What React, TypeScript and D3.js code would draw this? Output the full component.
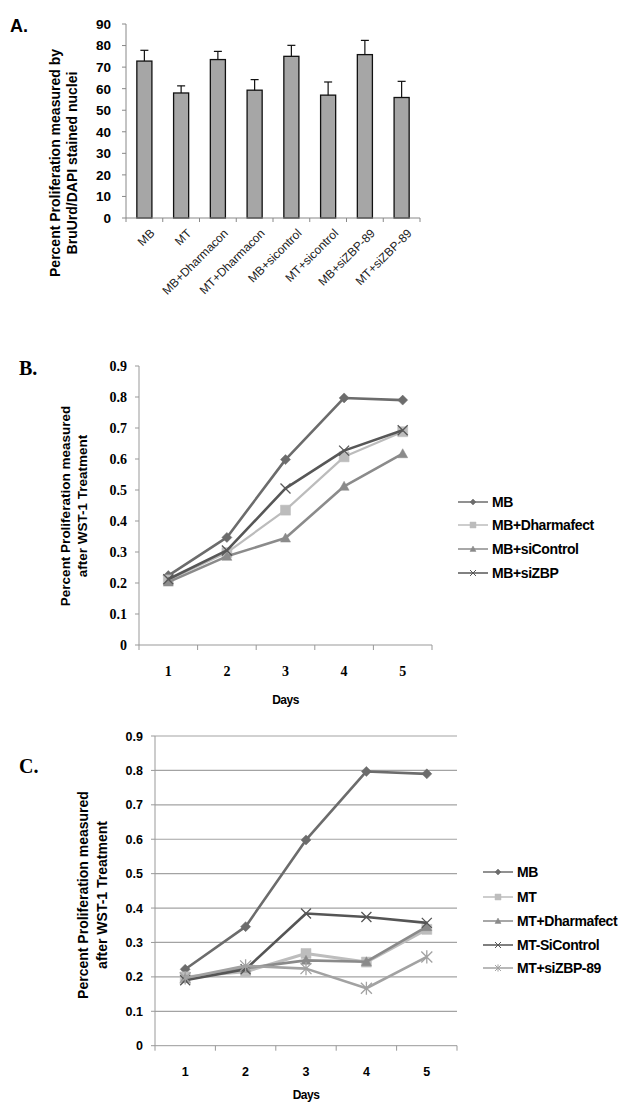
import React, { useEffect, useRef } from 'react';
import * as d3 from 'd3';

// Panel A: BrdU/DAPI proliferation
const aCategories = [
  'MB',
  'MT',
  'MB+Dharmacon',
  'MT+Dharmacon',
  'MB+sicontrol',
  'MT+sicontrol',
  'MB+siZBP-89',
  'MT+siZBP-89',
];
const aValues = [72.8, 58.0, 73.5, 59.3, 75.0, 57.0, 75.8, 55.9];
const aErrors = [5.0, 3.3, 3.8, 4.9, 5.1, 6.1, 6.6, 7.5];
const aTicks = [0, 10, 20, 30, 40, 50, 60, 70, 80, 90];

// Panels B and C: WST-1 time course
const days = [1, 2, 3, 4, 5];
const lineTicks = [0, 0.1, 0.2, 0.3, 0.4, 0.5, 0.6, 0.7, 0.8, 0.9];

const bNames = ['MB', 'MB+Dharmafect', 'MB+siControl', 'MB+siZBP'];
const bMB = [0.224, 0.347, 0.598, 0.797, 0.79];
const bDharmafect = [0.21, 0.298, 0.435, 0.607, 0.688];
const bSiControl = [0.203, 0.286, 0.345, 0.512, 0.617];
const bSiZBP = [0.212, 0.305, 0.505, 0.627, 0.693];

const cNames = ['MB', 'MT', 'MT+Dharmafect', 'MT-SiControl', 'MT+siZBP-89'];
const cMB = [0.222, 0.346, 0.598, 0.797, 0.79];
const cMT = [0.2, 0.215, 0.268, 0.243, 0.338];
const cDharmafect = [0.195, 0.225, 0.248, 0.244, 0.346];
const cSiControl = [0.19, 0.222, 0.384, 0.374, 0.357];
const cSiZBP = [0.197, 0.232, 0.224, 0.167, 0.258];

type Marker = 'diamond' | 'square' | 'triangle' | 'x' | 'star';

const markerPath = (m: Marker, s: number) => {
  const h = s / 2;
  switch (m) {
    case 'diamond':
      return `M0,${-h}L${h},0L0,${h}L${-h},0Z`;
    case 'square':
      return `M${-h},${-h}H${h}V${h}H${-h}Z`;
    case 'triangle':
      return `M0,${-h}L${h},${h * 0.8}L${-h},${h * 0.8}Z`;
    case 'x':
      return `M${-h},${-h}L${h},${h}M${h},${-h}L${-h},${h}`;
    case 'star':
      return `M${-h},${-h}L${h},${h}M${h},${-h}L${-h},${h}M0,${-h * 1.2}V${h * 1.2}`;
  }
};

const narrow = "'Liberation Sans Narrow', 'Arial Narrow', sans-serif";
const sans = "'Liberation Sans', Arial, sans-serif";
const serif = "'Liberation Serif', 'Times New Roman', serif";

type Series = { name: string; values: number[]; color: string; width: number; marker: Marker; size: number };

const App: React.FC = () => {
  const svgRef = useRef<SVGSVGElement>(null);

  useEffect(() => {
    if (!svgRef.current) return;
    const svg = d3.select(svgRef.current);
    svg.selectAll('*').remove();

    // ---------- Panel A ----------
    const gA = svg.append('g');
    const xA = d3
      .scaleBand<string>()
      .domain(aCategories)
      .range([126, 420])
      .paddingInner(0.59)
      .paddingOuter(0.295);
    const yA = d3.scaleLinear().domain([0, 90]).range([218, 24]);

    gA.append('text')
      .attr('x', 10)
      .attr('y', 32)
      .attr('font-family', sans)
      .attr('font-weight', 'bold')
      .attr('font-size', 18)
      .text('A.');

    // bars + error bars (upper only)
    aCategories.forEach((c, i) => {
      const x = xA(c)!;
      const w = xA.bandwidth();
      gA.append('rect')
        .attr('x', x)
        .attr('y', yA(aValues[i]))
        .attr('width', w)
        .attr('height', yA(0) - yA(aValues[i]))
        .attr('fill', '#a6a6a6')
        .attr('stroke', '#111')
        .attr('stroke-width', 1.3);
      const cx = x + w / 2;
      gA.append('line')
        .attr('x1', cx)
        .attr('x2', cx)
        .attr('y1', yA(aValues[i]))
        .attr('y2', yA(aValues[i] + aErrors[i]))
        .attr('stroke', '#111')
        .attr('stroke-width', 1.2);
      gA.append('line')
        .attr('x1', cx - 4)
        .attr('x2', cx + 4)
        .attr('y1', yA(aValues[i] + aErrors[i]))
        .attr('y2', yA(aValues[i] + aErrors[i]))
        .attr('stroke', '#111')
        .attr('stroke-width', 1.2);
      gA.append('text')
        .attr('transform', `translate(${cx + 5},${yA(0) + 10}) rotate(-45)`)
        .attr('text-anchor', 'end')
        .attr('dy', '0.7em')
        .attr('font-family', sans)
        .attr('font-size', 12)
        .attr('fill', '#222')
        .text(c);
    });

    // axes
    gA.append('line')
      .attr('x1', 126).attr('x2', 126)
      .attr('y1', yA(90)).attr('y2', yA(0))
      .attr('stroke', '#888');
    gA.append('line')
      .attr('x1', 126).attr('x2', 420)
      .attr('y1', yA(0)).attr('y2', yA(0))
      .attr('stroke', '#888');
    aTicks.forEach(t => {
      gA.append('line')
        .attr('x1', 122).attr('x2', 126)
        .attr('y1', yA(t)).attr('y2', yA(t))
        .attr('stroke', '#888');
      gA.append('text')
        .attr('x', 111)
        .attr('y', yA(t))
        .attr('dy', '0.36em')
        .attr('text-anchor', 'end')
        .attr('font-family', sans)
        .attr('font-weight', 'bold')
        .attr('font-size', 13.5)
        .text(t);
    });
    [...aCategories.map(c => xA(c)! - (xA.step() * xA.paddingInner()) / 2), 420].forEach(x => {
      gA.append('line')
        .attr('x1', x).attr('x2', x)
        .attr('y1', yA(0)).attr('y2', yA(0) + 4)
        .attr('stroke', '#888');
    });
    const titleA = gA.append('text')
      .attr('transform', 'translate(0,163) rotate(-90)')
      .attr('text-anchor', 'middle')
      .attr('font-family', sans)
      .attr('font-weight', 'bold')
      .attr('font-size', 14);
    titleA.append('tspan').attr('x', 0).attr('y', 60).text('Percent Proliferation measured by');
    titleA.append('tspan').attr('x', 0).attr('y', 77).text('BruUrd/DAPI stained nuclei');

    // ---------- line panels ----------
    const drawLinePanel = (
      opts: {
        x0: number; x1: number; y0: number; y1: number;
        grid: boolean; tickFont: string; tickSize: number;
        label: string; labelY: number;
        titleX: number[]; titleY: number; titleSize: number;
        legendX: number; legendY: number[];
        daysY: number;
      },
      series: Series[]
    ) => {
      const g = svg.append('g');
      const xBand = d3.scaleBand<number>().domain(days).range([opts.x0, opts.x1]);
      const xP = (d: number) => xBand(d)! + xBand.bandwidth() / 2;
      const y = d3.scaleLinear().domain([0, 0.9]).range([opts.y0, opts.y1]);

      g.append('text')
        .attr('x', 19)
        .attr('y', opts.labelY)
        .attr('font-family', serif)
        .attr('font-weight', 'bold')
        .attr('font-size', 20)
        .text(opts.label);

      if (opts.grid) {
        lineTicks.slice(1).forEach(t => {
          g.append('line')
            .attr('x1', opts.x0).attr('x2', opts.x1)
            .attr('y1', y(t)).attr('y2', y(t))
            .attr('stroke', '#a3a3a3')
            .attr('stroke-width', 1.2);
        });
      }
      g.append('line')
        .attr('x1', opts.x0).attr('x2', opts.x0)
        .attr('y1', y(0.9)).attr('y2', y(0))
        .attr('stroke', '#999');
      g.append('line')
        .attr('x1', opts.x0).attr('x2', opts.x1)
        .attr('y1', y(0)).attr('y2', y(0))
        .attr('stroke', '#999');
      lineTicks.forEach(t => {
        g.append('line')
          .attr('x1', opts.x0 - 4).attr('x2', opts.x0)
          .attr('y1', y(t)).attr('y2', y(t))
          .attr('stroke', '#999');
        g.append('text')
          .attr('x', opts.x0 - 12)
          .attr('y', y(t))
          .attr('dy', '0.36em')
          .attr('text-anchor', 'end')
          .attr('font-family', opts.tickFont)
          .attr('font-weight', 'bold')
          .attr('font-size', opts.tickSize)
          .text(t === 0 ? '0' : t.toFixed(1));
      });
      [...days.map(d => xBand(d)!), opts.x1].forEach(x => {
        g.append('line')
          .attr('x1', x).attr('x2', x)
          .attr('y1', y(0)).attr('y2', y(0) + 5)
          .attr('stroke', '#999');
      });
      days.forEach(d => {
        g.append('text')
          .attr('x', xP(d))
          .attr('y', y(0) + 26)
          .attr('dy', '0.36em')
          .attr('text-anchor', 'middle')
          .attr('font-family', opts.tickFont)
          .attr('font-weight', 'bold')
          .attr('font-size', opts.tickSize)
          .text(d);
      });
      g.append('text')
        .attr('x', (opts.x0 + opts.x1) / 2)
        .attr('y', opts.daysY)
        .attr('dy', '0.36em')
        .attr('text-anchor', 'middle')
        .attr('font-family', narrow)
        .attr('font-weight', 'bold')
        .attr('font-size', 12)
        .attr('letter-spacing', -0.5)
        .text('Days');

      const title = g.append('text')
        .attr('transform', `translate(0,${opts.titleY}) rotate(-90)`)
        .attr('text-anchor', 'middle')
        .attr('font-family', sans)
        .attr('font-weight', 'bold')
        .attr('font-size', opts.titleSize);
      title.append('tspan').attr('x', 0).attr('y', opts.titleX[0]).text('Percent Proliferation measured');
      title.append('tspan').attr('x', 0).attr('y', opts.titleX[1]).text('after WST-1 Treatment');

      const line = d3
        .line<number>()
        .x((_, i) => xP(days[i]))
        .y(v => y(v));

      series.forEach(s => {
        g.append('path')
          .attr('d', line(s.values))
          .attr('fill', 'none')
          .attr('stroke', s.color)
          .attr('stroke-width', s.width)
          .attr('stroke-linejoin', 'round');
        s.values.forEach((v, i) => {
          const stroked = s.marker === 'x' || s.marker === 'star';
          g.append('path')
            .attr('transform', `translate(${xP(days[i])},${y(v)})`)
            .attr('d', markerPath(s.marker, s.size))
            .attr('fill', stroked ? 'none' : s.color)
            .attr('stroke', s.color)
            .attr('stroke-width', stroked ? 1.3 : 0.5);
        });
      });

      // legend
      series.forEach((s, i) => {
        const ly = opts.legendY[i];
        g.append('line')
          .attr('x1', opts.legendX).attr('x2', opts.legendX + 30)
          .attr('y1', ly).attr('y2', ly)
          .attr('stroke', s.color)
          .attr('stroke-width', 1.5);
        const stroked = s.marker === 'x' || s.marker === 'star';
        g.append('path')
          .attr('transform', `translate(${opts.legendX + 15},${ly})`)
          .attr('d', markerPath(s.marker, 6))
          .attr('fill', stroked ? 'none' : s.color)
          .attr('stroke', s.color)
          .attr('stroke-width', stroked ? 1 : 0.5);
        g.append('text')
          .attr('x', opts.legendX + 34)
          .attr('y', ly)
          .attr('dy', '0.36em')
          .attr('font-family', narrow)
          .attr('font-weight', 'bold')
          .attr('font-size', 14)
          .attr('letter-spacing', -0.4)
          .text(s.name);
      });
    };

    const bColors = ['#6c6c6c', '#bcbcbc', '#8b8b8b', '#575757'];
    drawLinePanel(
      {
        x0: 139, x1: 432, y0: 645, y1: 366,
        grid: false, tickFont: serif, tickSize: 14,
        label: 'B.', labelY: 375,
        titleX: [70, 87], titleY: 506, titleSize: 13.5,
        legendX: 458, legendY: [502, 525, 549, 573],
        daysY: 700,
      },
      [
        { name: bNames[0], values: bMB, color: bColors[0], width: 2.6, marker: 'diamond', size: 10 },
        { name: bNames[1], values: bDharmafect, color: bColors[1], width: 2.2, marker: 'square', size: 10 },
        { name: bNames[2], values: bSiControl, color: bColors[2], width: 2.6, marker: 'triangle', size: 10 },
        { name: bNames[3], values: bSiZBP, color: bColors[3], width: 2.6, marker: 'x', size: 10 },
      ]
    );

    const cColors = ['#6c6c6c', '#bdbdbd', '#8a8a8a', '#555555', '#a2a2a2'];
    drawLinePanel(
      {
        x0: 155, x1: 457, y0: 1045.7, y1: 736,
        grid: true, tickFont: sans, tickSize: 12.5,
        label: 'C.', labelY: 773,
        titleX: [88, 107], titleY: 895, titleSize: 14,
        legendX: 483, legendY: [872, 897, 921, 945, 968],
        daysY: 1095,
      },
      [
        { name: cNames[0], values: cMB, color: cColors[0], width: 2.6, marker: 'diamond', size: 10 },
        { name: cNames[1], values: cMT, color: cColors[1], width: 3, marker: 'square', size: 10 },
        { name: cNames[2], values: cDharmafect, color: cColors[2], width: 2.6, marker: 'triangle', size: 10 },
        { name: cNames[3], values: cSiControl, color: cColors[3], width: 2.6, marker: 'x', size: 10 },
        { name: cNames[4], values: cSiZBP, color: cColors[4], width: 2.6, marker: 'star', size: 11 },
      ]
    );
  }, []);

  return (
    <svg
      ref={svgRef}
      width={629}
      height={1116}
      style={{ position: 'absolute', left: 0, top: 0, background: '#fff' }}
    />
  );
};

export default App;
